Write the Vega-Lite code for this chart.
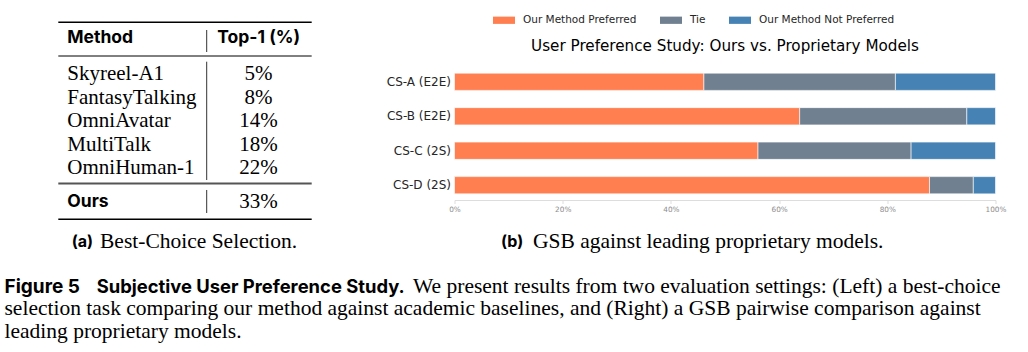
{
  "$schema": "https://vega.github.io/schema/vega-lite/v6.json",
  "background": "white",
  "padding": {"left": 4.5, "top": 9, "right": 0, "bottom": 0},
  "bounds": "flush",
  "spacing": 142,
  "config": {"view": {"stroke": null}},
  "hconcat": [
    {
      "width": 307.5,
      "height": 282,
      "layer": [
        {"data": {"values": [{}]}, "mark": {"type": "rule", "color": "#000", "strokeWidth": 1.6},
         "encoding": {"x": {"datum": 53.8, "type": "quantitative", "scale": {"domain": [0, 307.5], "nice": false, "zero": false}, "axis": null}, "x2": {"datum": 307.2},
                      "y": {"datum": -1.202, "type": "quantitative", "scale": {"domain": [0.7, 12.7], "reverse": true, "nice": false, "zero": false}, "axis": null}}},
        {"data": {"values": [{}]}, "mark": {"type": "rule", "color": "#000", "strokeWidth": 1},
         "encoding": {"x": {"datum": 53.8, "type": "quantitative", "axis": null}, "x2": {"datum": 307.2},
                      "y": {"datum": 0.232, "type": "quantitative", "axis": null}}},
        {"data": {"values": [{}]}, "mark": {"type": "rule", "color": "#555", "strokeWidth": 2},
         "encoding": {"x": {"datum": 53.8, "type": "quantitative", "axis": null}, "x2": {"datum": 307.2},
                      "y": {"datum": 5.657, "type": "quantitative", "axis": null}}},
        {"data": {"values": [{}]}, "mark": {"type": "rule", "color": "#000", "strokeWidth": 1.6},
         "encoding": {"x": {"datum": 53.8, "type": "quantitative", "axis": null}, "x2": {"datum": 307.2},
                      "y": {"datum": 7.181, "type": "quantitative", "axis": null}}},
        {"data": {"values": [{}]}, "mark": {"type": "rule", "color": "#333", "strokeWidth": 1},
         "encoding": {"x": {"datum": 202.2, "type": "quantitative", "axis": null},
                      "y": {"datum": -0.874, "type": "quantitative", "axis": null}, "y2": {"datum": 0.062}}},
        {"data": {"values": [{}]}, "mark": {"type": "rule", "color": "#333", "strokeWidth": 1},
         "encoding": {"x": {"datum": 202.2, "type": "quantitative", "axis": null},
                      "y": {"datum": 0.474, "type": "quantitative", "axis": null}, "y2": {"datum": 5.509}}},
        {"data": {"values": [{}]}, "mark": {"type": "rule", "color": "#333", "strokeWidth": 1},
         "encoding": {"x": {"datum": 202.2, "type": "quantitative", "axis": null},
                      "y": {"datum": 5.934, "type": "quantitative", "axis": null}, "y2": {"datum": 6.913}}},
        {"data": {"values": [{"label": "Method"}]},
         "mark": {"type": "text", "align": "left", "baseline": "middle", "font": "Inter", "fontWeight": "bold", "fontSize": 17.5, "color": "#000"},
         "encoding": {"x": {"datum": 62.8, "type": "quantitative", "axis": null}, "y": {"datum": -0.521, "type": "quantitative", "axis": null}, "text": {"field": "label"}}},
        {"data": {"values": [{"label": "Top-1 (%)"}]},
         "mark": {"type": "text", "align": "center", "baseline": "middle", "font": "Inter", "fontWeight": "bold", "fontSize": 17.5, "color": "#000"},
         "encoding": {"x": {"datum": 254.2, "type": "quantitative", "axis": null}, "y": {"datum": -0.521, "type": "quantitative", "axis": null}, "text": {"field": "label"}}},
        {"data": {"values": [
          {"method": "Skyreel-A1", "top1": 0.05, "row": 1},
          {"method": "FantasyTalking", "top1": 0.08, "row": 2},
          {"method": "OmniAvatar", "top1": 0.14, "row": 3},
          {"method": "MultiTalk", "top1": 0.18, "row": 4},
          {"method": "OmniHuman-1", "top1": 0.22, "row": 5}
         ]},
         "layer": [
           {"mark": {"type": "text", "align": "left", "baseline": "middle", "font": "Liberation Serif", "fontSize": 21, "color": "#000"},
            "encoding": {"x": {"datum": 62.8, "type": "quantitative", "axis": null}, "y": {"field": "row", "type": "quantitative", "axis": null}, "text": {"field": "method"}}},
           {"mark": {"type": "text", "align": "center", "baseline": "middle", "font": "Liberation Serif", "fontSize": 21, "color": "#000"},
            "encoding": {"x": {"datum": 254, "type": "quantitative", "axis": null}, "y": {"field": "row", "type": "quantitative", "axis": null}, "text": {"field": "top1", "type": "quantitative", "format": ".0%"}}}
         ]},
        {"data": {"values": [{"method": "Ours", "top1": 0.33}]},
         "layer": [
           {"mark": {"type": "text", "align": "left", "baseline": "middle", "font": "Inter", "fontWeight": "bold", "fontSize": 17.5, "color": "#000"},
            "encoding": {"x": {"datum": 62.8, "type": "quantitative", "axis": null}, "y": {"datum": 6.432, "type": "quantitative", "axis": null}, "text": {"field": "method"}}},
           {"mark": {"type": "text", "align": "center", "baseline": "middle", "font": "Liberation Serif", "fontSize": 21, "color": "#000"},
            "encoding": {"x": {"datum": 254, "type": "quantitative", "axis": null}, "y": {"datum": 6.432, "type": "quantitative", "axis": null}, "text": {"field": "top1", "type": "quantitative", "format": ".0%"}}}
         ]},
        {"data": {"values": [{"label": "(a)"}]},
         "mark": {"type": "text", "align": "left", "baseline": "middle", "font": "Inter", "fontWeight": "bold", "fontSize": 16, "color": "#000"},
         "encoding": {"x": {"datum": 67.2, "type": "quantitative", "axis": null}, "y": {"datum": 8.147, "type": "quantitative", "axis": null}, "text": {"field": "label"}}},
        {"data": {"values": [{"label": "Best-Choice Selection."}]},
         "mark": {"type": "text", "align": "left", "baseline": "middle", "font": "Liberation Serif", "fontSize": 21.5, "color": "#000"},
         "encoding": {"x": {"datum": 95.5, "type": "quantitative", "axis": null}, "y": {"datum": 8.147, "type": "quantitative", "axis": null}, "text": {"field": "label"}}},
        {"data": {"values": [{"label": "(b)"}]},
         "mark": {"type": "text", "align": "left", "baseline": "middle", "font": "Inter", "fontWeight": "bold", "fontSize": 16, "color": "#000"},
         "encoding": {"x": {"datum": 496.5, "type": "quantitative", "axis": null}, "y": {"datum": 8.147, "type": "quantitative", "axis": null}, "text": {"field": "label"}}},
        {"data": {"values": [{"label": "GSB against leading proprietary models."}]},
         "mark": {"type": "text", "align": "left", "baseline": "middle", "font": "Liberation Serif", "fontSize": 21.5, "color": "#000"},
         "encoding": {"x": {"datum": 528.5, "type": "quantitative", "axis": null}, "y": {"datum": 8.147, "type": "quantitative", "axis": null}, "text": {"field": "label"}}},
        {"data": {"values": [{"label": "Figure 5"}]},
         "mark": {"type": "text", "align": "left", "baseline": "middle", "font": "Inter", "fontWeight": "bold", "fontSize": 19, "color": "#000"},
         "encoding": {"x": {"datum": 0, "type": "quantitative", "axis": null}, "y": {"datum": 10.062, "type": "quantitative", "axis": null}, "text": {"field": "label"}}},
        {"data": {"values": [{"label": "Subjective User Preference Study."}]},
         "mark": {"type": "text", "align": "left", "baseline": "middle", "font": "Inter", "fontWeight": "bold", "fontSize": 18.4, "color": "#000"},
         "encoding": {"x": {"datum": 92.2, "type": "quantitative", "axis": null}, "y": {"datum": 10.062, "type": "quantitative", "axis": null}, "text": {"field": "label"}}},
        {"data": {"values": [{"label": "We present results from two evaluation settings: (Left) a best-choice"}]},
         "mark": {"type": "text", "align": "left", "baseline": "middle", "font": "Liberation Serif", "fontSize": 21.5, "color": "#000"},
         "encoding": {"x": {"datum": 408.5, "type": "quantitative", "axis": null}, "y": {"datum": 10.062, "type": "quantitative", "axis": null}, "text": {"field": "label"}}},
        {"data": {"values": [{"label": "selection task comparing our method against academic baselines, and (Right) a GSB pairwise comparison against"}]},
         "mark": {"type": "text", "align": "left", "baseline": "middle", "font": "Liberation Serif", "fontSize": 21.5, "color": "#000"},
         "encoding": {"x": {"datum": 0, "type": "quantitative", "axis": null}, "y": {"datum": 11.011, "type": "quantitative", "axis": null}, "text": {"field": "label"}}},
        {"data": {"values": [{"label": "leading proprietary models."}]},
         "mark": {"type": "text", "align": "left", "baseline": "middle", "font": "Liberation Serif", "fontSize": 21.5, "color": "#000"},
         "encoding": {"x": {"datum": 0, "type": "quantitative", "axis": null}, "y": {"datum": 11.96, "type": "quantitative", "axis": null}, "text": {"field": "label"}}}
      ]
    },
    {
      "width": 541,
      "height": 133,
      "data": {"values": [
        {"setting": "CS-A (E2E)", "result": "Our Method Preferred", "k": 1, "pct": 46.1},
        {"setting": "CS-A (E2E)", "result": "Tie", "k": 2, "pct": 35.4},
        {"setting": "CS-A (E2E)", "result": "Our Method Not Preferred", "k": 3, "pct": 18.5},
        {"setting": "CS-B (E2E)", "result": "Our Method Preferred", "k": 1, "pct": 63.8},
        {"setting": "CS-B (E2E)", "result": "Tie", "k": 2, "pct": 30.9},
        {"setting": "CS-B (E2E)", "result": "Our Method Not Preferred", "k": 3, "pct": 5.3},
        {"setting": "CS-C (2S)", "result": "Our Method Preferred", "k": 1, "pct": 56.1},
        {"setting": "CS-C (2S)", "result": "Tie", "k": 2, "pct": 28.3},
        {"setting": "CS-C (2S)", "result": "Our Method Not Preferred", "k": 3, "pct": 15.6},
        {"setting": "CS-D (2S)", "result": "Our Method Preferred", "k": 1, "pct": 87.8},
        {"setting": "CS-D (2S)", "result": "Tie", "k": 2, "pct": 8.1},
        {"setting": "CS-D (2S)", "result": "Our Method Not Preferred", "k": 3, "pct": 4.1}
      ]},
      "title": {"text": "User Preference Study: Ours vs. Proprietary Models", "font": "DejaVu Sans", "fontSize": 15.2, "fontWeight": "normal", "color": "#000", "anchor": "middle", "offset": 13},
      "mark": {"type": "bar", "stroke": "#ffffff", "strokeWidth": 0.6},
      "encoding": {
        "y": {"field": "setting", "type": "nominal", "sort": ["CS-A (E2E)", "CS-B (E2E)", "CS-C (2S)", "CS-D (2S)"],
              "scale": {"paddingInner": 0.5, "paddingOuter": 0.178},
              "axis": {"title": null, "domain": false, "ticks": false, "labelFont": "DejaVu Sans", "labelFontSize": 12, "labelColor": "#262626", "labelPadding": 4}},
        "x": {"field": "pct", "type": "quantitative", "stack": "zero", "scale": {"domain": [0, 100], "nice": false},
              "axis": {"title": null, "values": [0, 20, 40, 60, 80, 100], "labelExpr": "datum.value + '%'", "labelFont": "DejaVu Sans", "labelFontSize": 7.3, "labelColor": "#8c8c8c", "labelFlush": false, "labelPadding": 2, "domainColor": "#dddddd", "tickColor": "#dddddd", "tickSize": 3.5, "grid": false}},
        "color": {"field": "result", "type": "nominal",
                  "scale": {"domain": ["Our Method Preferred", "Tie", "Our Method Not Preferred"], "range": ["#FF7F50", "#708090", "#4682B4"]},
                  "legend": {"title": null, "orient": "none", "legendX": 488.5, "legendY": -58, "direction": "horizontal", "symbolType": "M-1,-0.33H1V0.33H-1Z", "symbolSize": 484, "symbolStrokeWidth": 0, "labelFont": "DejaVu Sans", "labelFontSize": 10.5, "labelColor": "#262626", "labelOffset": 8, "columnPadding": 23, "padding": 0}},
        "order": {"field": "k", "type": "quantitative"}
      }
    }
  ]
}
